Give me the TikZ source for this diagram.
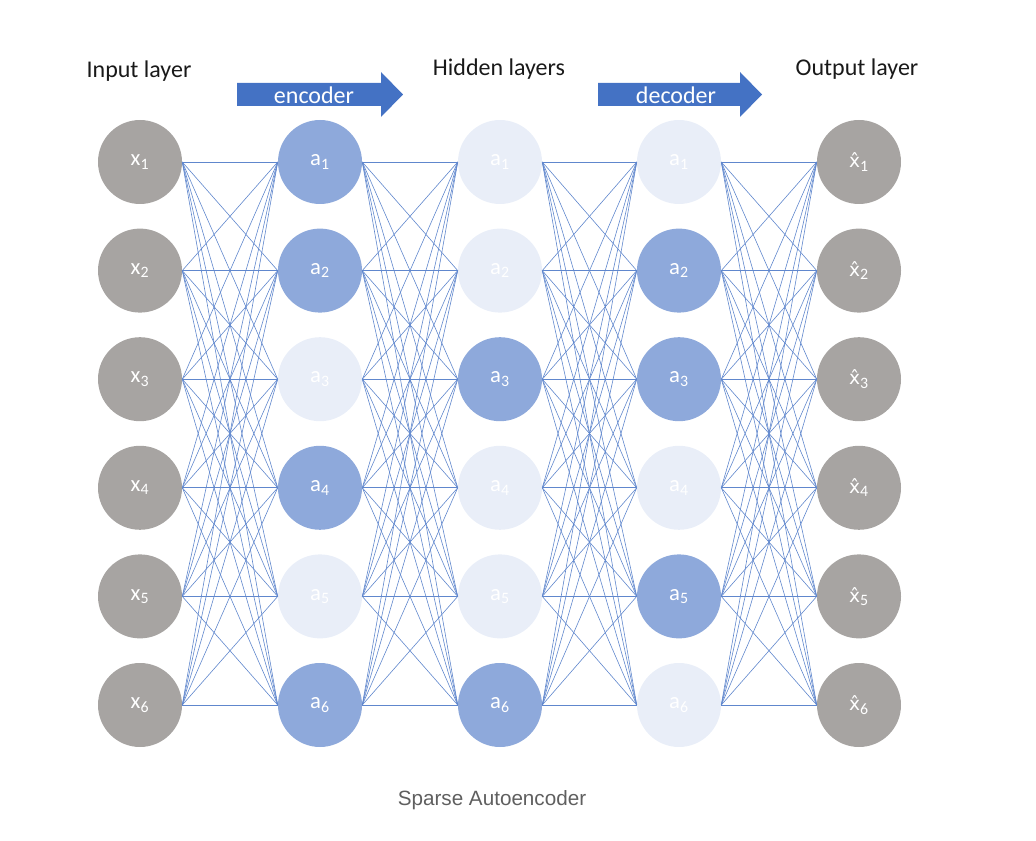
\documentclass[tikz,border=0pt]{standalone}
\usepackage{fontspec}
\setmainfont{Carlito}
\newfontfamily\capfont{Liberation Sans}
\newfontfamily\hatfont{DejaVu Sans}
\usetikzlibrary{positioning}

\definecolor{unitgray}{HTML}{A7A4A2}
\definecolor{uniton}{HTML}{8EA9DB}
\definecolor{unitoff}{HTML}{E9EEF8}
\definecolor{wireblue}{HTML}{4472C4}
\definecolor{capgray}{HTML}{5F5F5F}

% x with a hat (combining circumflex, which Carlito lacks)
\newcommand{\xhat}{{\hatfont\fontsize{14}{17}\selectfont x^^^^0302}}

\begin{document}
\begin{tikzpicture}[
            x=0.75pt, y=-0.75pt,
            unit/.style={circle, minimum size=63pt, inner sep=0pt, text=white, font=\fontsize{17}{20}\selectfont},
            wire/.style={wireblue!85, line width=0.45pt},
            title/.style={font=\fontsize{18}{22}\selectfont, text=black!90},
            blockarrow/.style={fill=wireblue}
        ]
            \useasboundingbox (0,0) rectangle (1036,841);
            % titles
            \node[title] (intitle) at (139,71) {Input layer};
            \node[title] (hidtitle) at (499,69) {Hidden layers};
            \node[title] (outtitle) at (857,69) {Output layer};
            % block arrows
            \fill[blockarrow] (237,83) -- (381,83) -- (381,72) -- (403,94.5) -- (381,117) -- (381,106) -- (237,106) -- cycle;
            \node[title, text=white] (enclabel) at (314,95) {encoder};
            \fill[blockarrow] (598,83) -- (740,83) -- (740,72) -- (762,94.5) -- (740,117) -- (740,106) -- (598,106) -- cycle;
            \node[title, text=white] (declabel) at (676,95) {decoder};
            % layers
            \foreach \i in {1,...,6} {
                \node[unit, fill=unitgray] (in\i) at (140,{162+(\i-1)*108.6}) {x\textsubscript{\i}};
                \node[unit, fill=unitgray] (out\i) at (859,{162+(\i-1)*108.6}) {\xhat\textsubscript{\i}};
            }
            \foreach \i/\s in {1/on,2/on,3/off,4/on,5/off,6/on}
                \node[unit, fill=unit\s] (enc\i) at (320,{162+(\i-1)*108.6}) {a\textsubscript{\i}};
            \foreach \i/\s in {1/off,2/off,3/on,4/off,5/off,6/on}
                \node[unit, fill=unit\s] (mid\i) at (500,{162+(\i-1)*108.6}) {a\textsubscript{\i}};
            \foreach \i/\s in {1/off,2/on,3/on,4/off,5/on,6/off}
                \node[unit, fill=unit\s] (dec\i) at (679,{162+(\i-1)*108.6}) {a\textsubscript{\i}};
            % connections
            \foreach \i in {1,...,6}
                \foreach \j in {1,...,6} {
                    \draw[wire] (in\i.east) -- (enc\j.west);
                    \draw[wire] (enc\i.east) -- (mid\j.west);
                    \draw[wire] (mid\i.east) -- (dec\j.west);
                    \draw[wire] (dec\i.east) -- (out\j.west);
                }
            \node[font=\capfont\fontsize{15.5}{18}\selectfont, text=capgray] (caption) at (492,800) {Sparse Autoencoder};
        \end{tikzpicture}
\end{document}
